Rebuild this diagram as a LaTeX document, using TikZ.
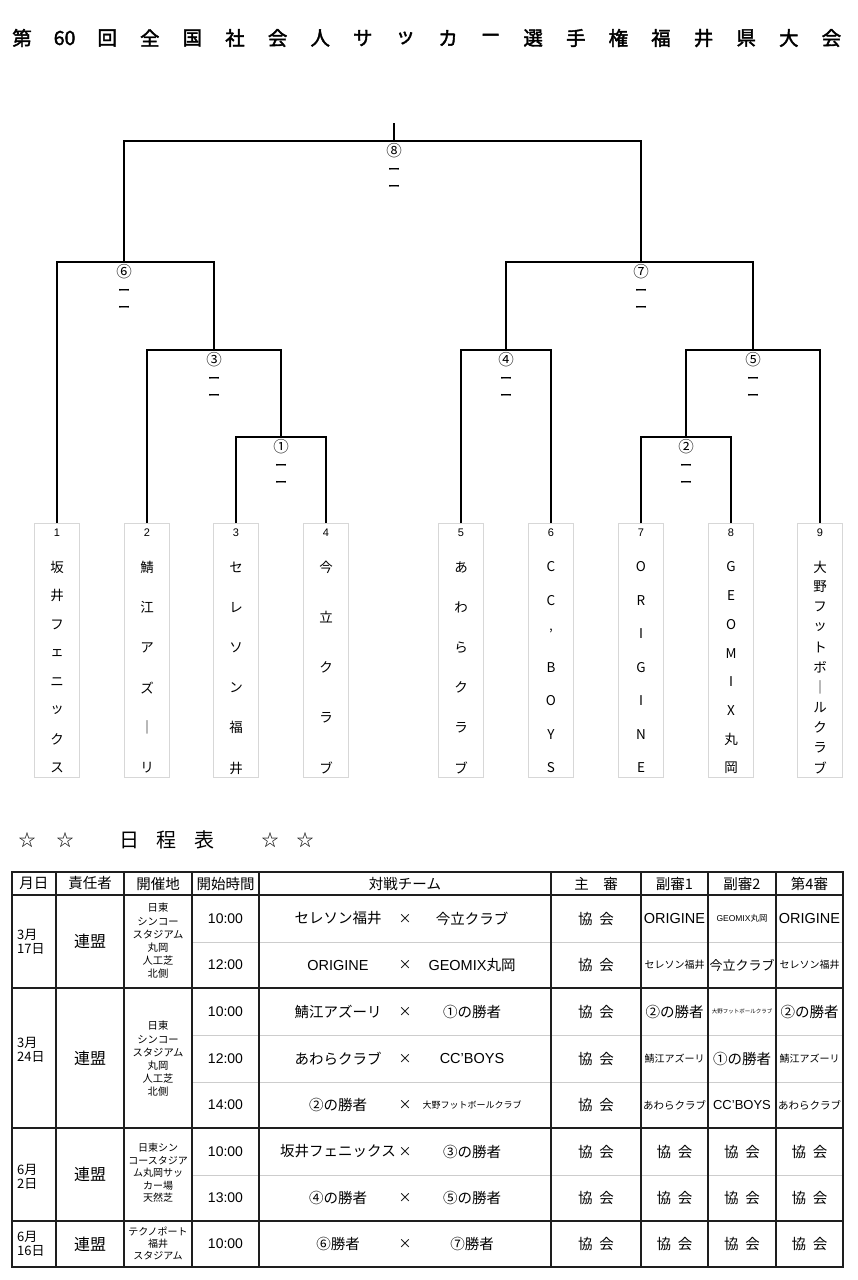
\documentclass[tikz,border=0pt]{standalone}
\usepackage{fontspec}
\setmainfont{Noto Sans CJK JP}
\newfontfamily\titrefont{Noto Sans CJK JP}[FakeBold=2]
\newfontfamily\lat{Liberation Sans}
\usetikzlibrary{positioning,calc}
\definecolor{grisB}{RGB}{215,215,215}
\definecolor{grisL}{RGB}{205,205,205}
\definecolor{noirT}{RGB}{30,30,30}
\newcommand{\fz}[1]{\fontsize{#1}{#1}\selectfont}
\newcommand{\kyo}{協\hspace{7pt}会}
\tikzset{
  titre/.style={inner sep=0pt, font=\titrefont\fz{19.5}},
  ligne/.style={line width=1.3pt, draw=black},
  equipe/.style={rectangle, draw=grisB, line width=1pt, minimum width=45pt,
                 minimum height=254pt, anchor=north, inner sep=0pt},
  numero/.style={inner sep=0pt, font=\lat\fz{11}},
  lettre/.style={inner sep=0pt, font=\fz{13.5}},
  score/.style={align=center, inner sep=0pt, font=\titrefont\fontsize{12}{17}\selectfont},
  cadre/.style={line width=1.5pt, draw=noirT},
  fin/.style={line width=0.9pt, draw=grisL},
  tete/.style={inner sep=0pt, font=\fz{14.5}},
  cell/.style={inner sep=0pt, font=\fz{14.5}},
  jour/.style={inner sep=0pt, align=left, anchor=west, font=\fontsize{13}{14}\selectfont},
  petit/.style={inner sep=0pt, align=center, font=\fontsize{10.3}{13.2}\selectfont},
}

\begin{document}
\begin{tikzpicture}[x=1pt,y=-1pt]
\useasboundingbox (0,0) rectangle (857,1280);

% titre
\foreach \c [count=\i] in {第,60,回,全,国,社,会,人,サ,ッ,カ,ー,選,手,権,福,井,県,大,会}
  \node[titre] (ti\i) at ({22+42.6*(\i-1)},38) {\c};

% equipes
\foreach \n/\x/\nb/\nom in {1/57/8/{坂,井,フ,ェ,ニ,ッ,ク,ス}, 2/147/6/{鯖,江,ア,ズ,｜,リ},
    3/236/6/{セ,レ,ソ,ン,福,井}, 4/326/5/{今,立,ク,ラ,ブ}, 5/461/6/{あ,わ,ら,ク,ラ,ブ},
    6/551/7/{C,C,’,B,O,Y,S}, 7/641/7/{O,R,I,G,I,N,E}, 8/731/8/{G,E,O,M,I,X,丸,岡},
    9/820/11/{大,野,フ,ッ,ト,ボ,｜,ル,ク,ラ,ブ}} {
  \node[equipe] (t\n) at (\x,523) {};
  \node[numero] (n\n) at (\x,533) {\n};
  \foreach \c [count=\j] in \nom {
    \pgfmathsetmacro{\yy}{567+(\j-1)*201/(\nb-1)}
    \node[lettre] (t\n-\j) at (\x,\yy) {\c};
  }
}

% tableau des rencontres
\coordinate (top) at (394,123);
\coordinate (j8) at (394,141);
\coordinate (j6) at (124,262);
\coordinate (j7) at (641,262);
\coordinate (j3) at (214,350);
\coordinate (j4) at (506,350);
\coordinate (j5) at (753,350);
\coordinate (j1) at (281,437);
\coordinate (j2) at (686,437);
\draw[ligne] (top) -- (j8);
\draw[ligne] (j6) |- (j8) -| (j7);
\draw[ligne] (t1.north) |- (j6) -| (j3);
\draw[ligne] (t2.north) |- (j3) -| (j1);
\draw[ligne] (t3.north) |- (j1) -| (t4.north);
\draw[ligne] (j4) |- (j7) -| (j5);
\draw[ligne] (t5.north) |- (j4) -| (t6.north);
\draw[ligne] (j2) |- (j5) -| (t9.north);
\draw[ligne] (t7.north) |- (j2) -| (t8.north);
\foreach \m/\c in {8/⑧,6/⑥,7/⑦,3/③,4/④,5/⑤,1/①,2/②}
  \node[score, below=2pt of j\m] (m\m) {{\setmainfont{Noto Sans CJK JP}\normalfont\fz{15.5}\c}\\ー\\ー};

% programme
\node[inner sep=0pt, font=\fz{17}] (st1) at (27,840) {☆};
\node[inner sep=0pt, font=\fz{17}] (st2) at (65,840) {☆};
\node[inner sep=0pt, font=\fz{20}] (pg1) at (129,840) {日};
\node[inner sep=0pt, font=\fz{20}] (pg2) at (166,840) {程};
\node[inner sep=0pt, font=\fz{20}] (pg3) at (204,840) {表};
\node[inner sep=0pt, font=\fz{17}] (st3) at (270,840) {☆};
\node[inner sep=0pt, font=\fz{17}] (st4) at (305,840) {☆};

\foreach \yy in {942,1035,1082,1175}
  \draw[fin] (192,\yy) -- (843,\yy);
\foreach \xx in {56,124,192,259,551,641,708,776}
  \draw[cadre] (\xx,872) -- (\xx,1267);
\foreach \yy in {895,988,1128,1221}
  \draw[cadre] (12,\yy) -- (843,\yy);
\draw[cadre] (12,872) rectangle (843,1267);

\foreach \t/\xx [count=\i] in {月日/34, 責任者/90, 開催地/158, 開始時間/225.5, 対戦チーム/405,
    主　審/596, 副審1/674.5, 副審2/742, 第4審/809.5}
  \node[tete] (h\i) at (\xx,883.5) {\t};

% jours
\node[jour] (d1) at (17,941.5) {3月\\17日};
\node[jour] (d2) at (17,1050) {3月\\24日};
\node[jour] (d3) at (17,1177) {6月\\2日};
\node[jour] (d4) at (17,1244) {6月\\16日};
\foreach \yy [count=\i] in {941.5,1058,1174.5,1244}
  \node[cell, font=\fz{16}] (r\i) at (90,\yy) {連盟};
\node[petit] (v1) at (158,941) {日東\\シンコー\\スタジアム\\丸岡\\人工芝\\北側};
\node[petit] (v2) at (158,1059) {日東\\シンコー\\スタジアム\\丸岡\\人工芝\\北側};
\node[petit, font=\fontsize{10}{12.5}\selectfont] (v3) at (158,1173) {日東シン\\コースタジア\\ム丸岡サッ\\カー場\\天然芝};
\node[petit, font=\fontsize{10}{12}\selectfont] (v4) at (158,1243) {テクノポート\\福井\\スタジアム};

% heures et matchs
\foreach \h/\yy/\a/\b [count=\i] in {10:00/918.5/セレソン福井/今立クラブ,
    12:00/965/{\lat ORIGINE}/{{\lat GEOMIX}丸岡},
    10:00/1011.5/鯖江アズーリ/①の勝者,
    12:00/1058.5/あわらクラブ/{{\lat CC’BOYS}},
    14:00/1105/②の勝者/{\fz{9}大野フットボールクラブ},
    10:00/1151.5/坂井フェニックス/③の勝者,
    13:00/1198/④の勝者/⑤の勝者,
    10:00/1244/⑥勝者/⑦勝者} {
  \node[cell, font=\lat\fz{14}] (k\i) at (225.5,\yy) {\h};
  \node[cell] (a\i) at (338,\yy) {\a};
  \node[cell, font=\fz{13}] (x\i) at (405,\yy) {×};
  \node[cell] (b\i) at (472,\yy) {\b};
  \node[cell] (s\i) at (596,\yy) {\kyo};
}

% arbitres
\foreach \p/\q/\f/\yy [count=\i] in {
    {\lat\fz{14.5}ORIGINE}/{\fz{8.5}{\lat GEOMIX}丸岡}/{\lat\fz{14.5}ORIGINE}/918.5,
    {\fz{10}セレソン福井}/{\fz{13}今立クラブ}/{\fz{10}セレソン福井}/965,
    {\fz{14.5}②の勝者}/{\fz{5.5}大野フットボールクラブ}/{\fz{14.5}②の勝者}/1011.5,
    {\fz{10}鯖江アズーリ}/{\fz{14.5}①の勝者}/{\fz{10}鯖江アズーリ}/1058.5,
    {\fz{10.5}あわらクラブ}/{\lat\fz{13}CC’BOYS}/{\fz{10.5}あわらクラブ}/1105,
    \kyo/\kyo/\kyo/1151.5,
    \kyo/\kyo/\kyo/1198,
    \kyo/\kyo/\kyo/1244} {
  \node[cell] (p\i) at (674.5,\yy) {\p};
  \node[cell] (q\i) at (742,\yy) {\q};
  \node[cell] (f\i) at (809.5,\yy) {\f};
}
\end{tikzpicture}
\end{document}
